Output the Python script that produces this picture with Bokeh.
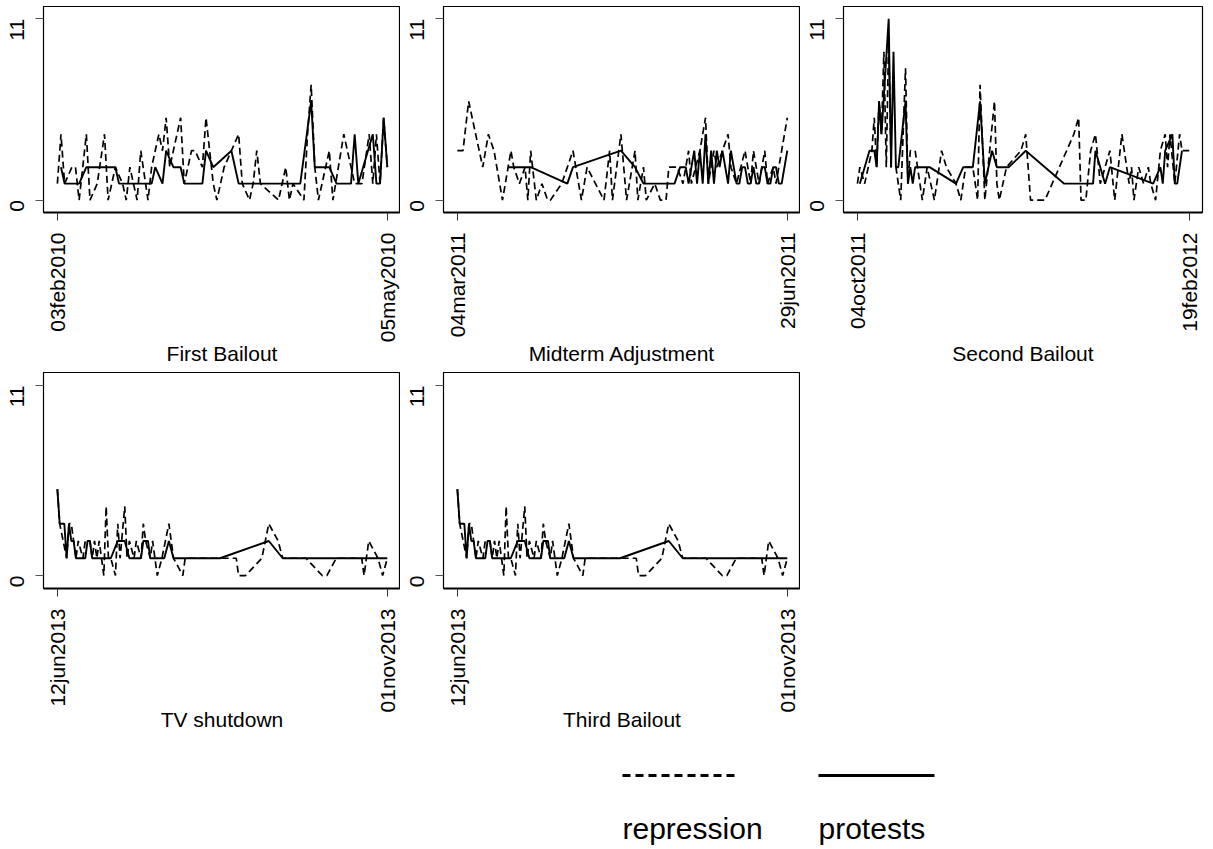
import math
import pandas as pd
from bokeh.plotting import figure
from bokeh.models import FixedTicker, Range1d
from bokeh.layouts import column, row
from bokeh.embed import file_html
from bokeh.resources import INLINE
from bokeh.core.properties import value

FONT = "Liberation Sans"

# ---------------- data ----------------
panel_titles = ["First Bailout", "Midterm Adjustment", "Second Bailout", "TV shutdown", "Third Bailout"]
panel_ticks = [
    ["03feb2010", "05may2010"],
    ["04mar2011", "29jun2011"],
    ["04oct2011", "19feb2012"],
    ["12jun2013", "01nov2013"],
    ["12jun2013", "01nov2013"],
]
y_ticks = [0, 11]
series_names = ["repression", "protests"]

# First Bailout (days since 03feb2010)
fb_protest_day = [1, 2, 6, 8, 16, 17, 26, 27, 29, 30, 32, 34, 35, 40, 41, 43, 48, 50, 67, 70,
                  71, 75, 77, 81, 82, 83, 87, 88, 89, 90, 91]
fb_protest = [2, 1, 1, 2, 2, 1, 1, 2, 1, 3, 2, 2, 1, 1, 3, 2, 3, 1, 1, 6,
              2, 2, 1, 1, 4, 1, 4, 1, 1, 5, 2]
fb_repress_day = [0, 1, 2, 4, 5, 6, 8, 9, 11, 13, 14, 16, 18, 19, 20, 22, 23, 25, 26, 28,
                  29, 30, 31, 33, 34, 35, 37, 38, 40, 41, 43, 44, 46, 50, 51, 53, 54, 55, 56, 61,
                  63, 64, 65, 68, 69, 70, 71, 72, 75, 76, 79, 80, 82, 84, 86, 87, 88, 89, 90, 91]
fb_repress = [1, 4, 1, 2, 2, 0, 4, 0, 1, 4, 0, 2, 1, 0, 2, 0, 3, 0, 2, 4,
              3, 5, 2, 4, 5, 1, 3, 3, 2, 5, 1, 0, 2, 4, 1, 0, 1, 3, 1, 0,
              2, 0, 1, 0, 4, 7, 2, 0, 3, 0, 4, 3, 1, 1, 4, 1, 4, 1, 5, 2]

# Midterm Adjustment (days since 04mar2011)
mid_protest_day = [18, 26, 39, 41, 58, 63, 66, 77, 79, 81, 82, 83, 84, 85, 86, 87, 88, 89, 90, 91,
                   92, 93, 94, 95, 96, 97, 98, 99, 100, 101, 102, 103, 104, 105, 106, 107, 108, 109, 110, 111,
                   112, 113, 114, 115, 116, 117]
mid_protest = [2, 2, 1, 2, 3, 2, 1, 1, 2, 2, 1, 2, 3, 1, 3, 1, 4, 1, 3, 1,
               3, 2, 3, 2, 1, 3, 2, 1, 1, 2, 2, 1, 1, 2, 1, 1, 2, 2, 1, 1,
               2, 2, 1, 1, 2, 3]
mid_repress_day = [0, 2, 4, 9, 11, 13, 16, 19, 20, 22, 24, 25, 26, 28, 30, 32, 33, 37, 41, 44,
                   46, 52, 54, 55, 58, 60, 63, 64, 66, 67, 70, 72, 74, 75, 78, 80, 82, 83, 86, 88,
                   89, 91, 92, 94, 96, 97, 99, 102, 104, 105, 107, 109, 110, 112, 113, 115, 117]
mid_repress = [3, 3, 6, 2, 4, 3, 0, 3, 2, 1, 2, 0, 3, 0, 1, 0, 0, 1, 3, 0,
               2, 0, 3, 0, 4, 0, 3, 0, 2, 0, 1, 0, 0, 2, 2, 1, 3, 1, 3, 5,
               1, 3, 2, 3, 4, 2, 1, 3, 1, 3, 1, 3, 1, 2, 1, 3, 5]

# Second Bailout (days since 04oct2011)
sb_protest_day = [1, 5, 7, 8, 9, 10, 13, 14, 15, 16, 17, 20, 21, 22, 23, 24, 30, 41, 44, 48,
                  51, 53, 56, 58, 63, 70, 86, 98, 99, 103, 105, 123, 126, 127, 128, 131, 132, 133, 135]
sb_protest = [1, 3, 3, 2, 6, 4, 11, 2, 9, 2, 2, 6, 1, 2, 1, 2, 2, 1, 2, 2,
              6, 1, 3, 2, 2, 3, 1, 1, 3, 1, 2, 1, 2, 1, 3, 4, 1, 1, 3]
sb_repress_day = [0, 1, 3, 6, 7, 8, 9, 10, 11, 12, 13, 14, 16, 18, 19, 20, 21, 22, 24, 27,
                  29, 32, 35, 37, 41, 43, 45, 48, 50, 51, 53, 57, 58, 59, 62, 68, 70, 72, 78, 81,
                  90, 92, 93, 95, 97, 99, 101, 105, 107, 110, 113, 114, 115, 117, 119, 121, 122, 124, 126, 128,
                  129, 130, 132, 134, 135, 138]
sb_repress = [1, 2, 1, 3, 5, 2, 6, 4, 9, 2, 10, 2, 2, 0, 4, 8, 1, 3, 3, 0,
              2, 0, 3, 2, 1, 0, 2, 2, 0, 7, 0, 6, 1, 0, 2, 3, 4, 0, 0, 1,
              4, 5, 0, 0, 3, 4, 1, 3, 0, 4, 1, 2, 0, 2, 1, 2, 1, 0, 3, 4,
              2, 4, 1, 4, 3, 3]

# TV shutdown (days since 12jun2013)
tv_protest_day = [0, 1, 3, 4, 5, 6, 7, 8, 12, 13, 14, 15, 23, 26, 29, 31, 36, 37, 39, 40,
                  46, 48, 50, 70, 91, 97, 142]
tv_protest = [5, 3, 3, 1, 3, 2, 2, 1, 1, 2, 2, 1, 1, 2, 2, 1, 1, 2, 2, 1,
              1, 2, 1, 1, 2, 1, 1]
tv_repress_day = [0, 1, 4, 5, 6, 8, 9, 11, 12, 14, 15, 16, 17, 18, 20, 21, 22, 23, 25, 26,
                  27, 29, 30, 31, 33, 34, 36, 37, 38, 40, 41, 43, 45, 48, 50, 54, 55, 77, 78, 81,
                  88, 91, 95, 97, 107, 114, 116, 120, 131, 132, 133, 134, 138, 140, 142]
tv_repress = [5, 3, 1, 3, 3, 1, 2, 1, 2, 2, 1, 2, 1, 2, 0, 4, 1, 1, 0, 3,
              1, 4, 1, 2, 1, 2, 1, 3, 2, 1, 2, 0, 1, 3, 1, 0, 1, 1, 0, 0,
              1, 3, 2, 1, 1, 0, 0, 1, 1, 0, 1, 2, 1, 0, 1]

# Third Bailout (days since 12jun2013) - same window as TV shutdown
tb_protest_day = list(tv_protest_day)
tb_protest = list(tv_protest)
tb_repress_day = list(tv_repress_day)
tb_repress = list(tv_repress)

# ---------------- styles / layout ----------------
REPRESS_STYLE = dict(line_color="black", line_width=1.7, line_dash="7 4")
PROTEST_STYLE = dict(line_color="black", line_width=1.9)


def make_panel(title, ticks, p_day, p_val, r_day, r_val, width, height, frame_w, frame_top, frame_h,
               title_standoff):
    start = pd.to_datetime(ticks[0], format="%d%b%Y")
    end = pd.to_datetime(ticks[1], format="%d%b%Y")
    span = (end - start).days
    pad_l = 0.042 * span
    pad_r = 0.040 * span
    p = figure(width=width, height=height,
               x_range=Range1d(-pad_l, span + pad_r), y_range=Range1d(-0.75, 11.75),
               output_backend="svg", toolbar_location=None,
               min_border_left=43, min_border_right=width - 43 - frame_w,
               min_border_top=frame_top, min_border_bottom=height - frame_top - frame_h)
    p.grid.visible = False
    p.background_fill_color = "white"
    p.border_fill_color = "white"
    p.outline_line_color = "black"
    p.outline_line_width = 1.2

    p.line(r_day, r_val, **REPRESS_STYLE)
    p.line(p_day, p_val, **PROTEST_STYLE)

    xa = p.xaxis[0]
    xa.ticker = FixedTicker(ticks=[0, span])
    xa.major_label_overrides = {0: ticks[0], span: ticks[1]}
    xa.major_label_orientation = math.pi / 2
    xa.major_label_text_font = FONT
    xa.major_label_text_font_size = "21px"
    xa.major_label_text_color = "black"
    xa.major_label_standoff = 12
    xa.major_tick_out = 8
    xa.major_tick_in = 0
    xa.minor_tick_out = 0
    xa.minor_tick_in = 0
    xa.major_tick_line_color = "#333333"
    xa.axis_line_color = "black"
    xa.axis_line_width = 2
    xa.axis_label = title
    xa.axis_label_text_font = FONT
    xa.axis_label_text_font_size = "21px"
    xa.axis_label_text_font_style = "normal"
    xa.axis_label_text_color = "black"
    xa.axis_label_standoff = title_standoff

    ya = p.yaxis[0]
    ya.ticker = FixedTicker(ticks=y_ticks)
    ya.major_label_orientation = math.pi / 2
    ya.major_label_text_font = FONT
    ya.major_label_text_font_size = "21px"
    ya.major_label_text_color = "black"
    ya.major_label_standoff = 18
    ya.major_tick_out = 8
    ya.major_tick_in = 0
    ya.minor_tick_out = 0
    ya.minor_tick_in = 0
    ya.major_tick_line_color = "#555555"
    ya.axis_line_color = "black"
    ya.axis_line_width = 1
    return p


f1 = make_panel(panel_titles[0], panel_ticks[0], fb_protest_day, fb_protest, fb_repress_day, fb_repress,
                400, 372, 360, 6, 216, -3)
f2 = make_panel(panel_titles[1], panel_ticks[1], mid_protest_day, mid_protest, mid_repress_day, mid_repress,
                400, 372, 360, 6, 206, 2)
f3 = make_panel(panel_titles[2], panel_ticks[2], sb_protest_day, sb_protest, sb_repress_day, sb_repress,
                405, 372, 359, 6, 217, 7)
f4 = make_panel(panel_titles[3], panel_ticks[3], tv_protest_day, tv_protest, tv_repress_day, tv_repress,
                400, 368, 360, 0, 216, -7)
f5 = make_panel(panel_titles[4], panel_ticks[4], tb_protest_day, tb_protest, tb_repress_day, tb_repress,
                400, 368, 360, 0, 216, -7)

# legend strip (page-pixel coordinates)
leg = figure(width=1205, height=109, x_range=Range1d(0, 1205), y_range=Range1d(849, 740),
             output_backend="svg", toolbar_location=None,
             x_axis_location=None, y_axis_location=None,
             min_border=0, min_border_left=0, min_border_right=0, min_border_top=0, min_border_bottom=0)
leg.grid.visible = False
leg.outline_line_color = None
LEG_KEY_X = [[622, 738], [818, 934]]
LEG_KEY_Y = 775
LEG_TEXT_Y = 828
leg.line(LEG_KEY_X[0], [LEG_KEY_Y, LEG_KEY_Y], line_color="black", line_width=3, line_dash="8 5")
leg.line(LEG_KEY_X[1], [LEG_KEY_Y, LEG_KEY_Y], line_color="black", line_width=3)
leg.text(x=[LEG_KEY_X[0][0], LEG_KEY_X[1][0]], y=[LEG_TEXT_Y, LEG_TEXT_Y], text=series_names,
         text_font=value(FONT), text_font_size="30px", text_color="black",
         text_baseline="middle", text_align="left")

layout = column(row(f1, f2, f3), row(f4, f5), leg)

open("out.html", "w").write(file_html(layout, INLINE))
